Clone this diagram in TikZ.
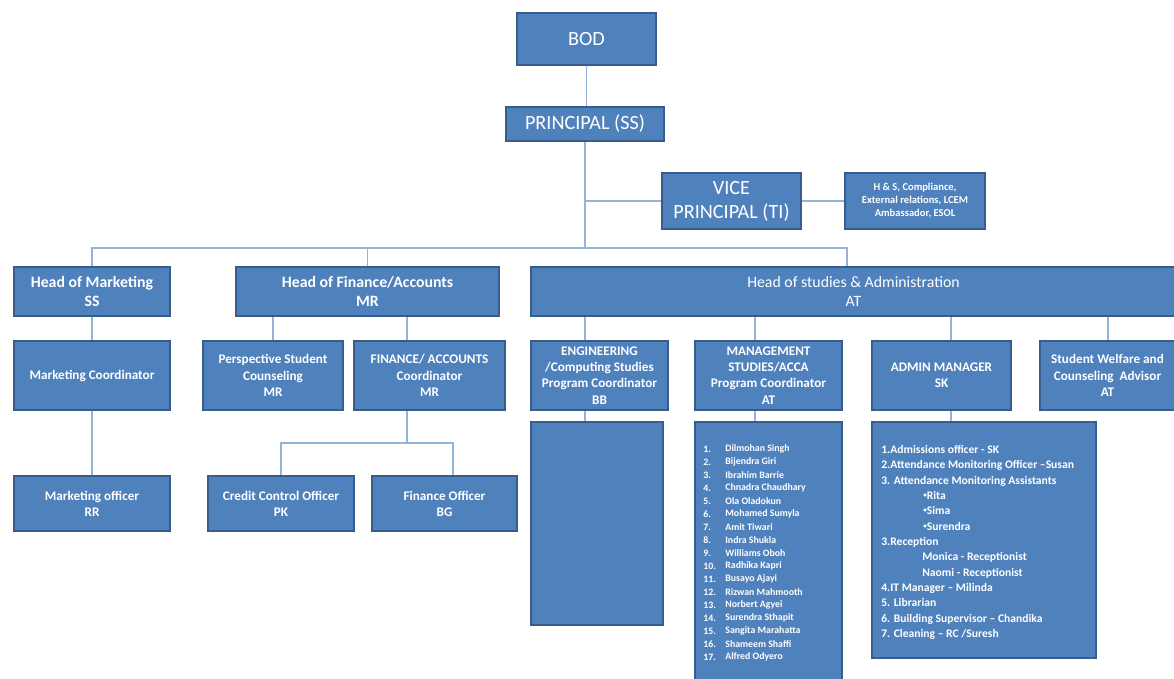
\documentclass[tikz,border=0pt]{standalone}
\usepackage{fontspec}
\setmainfont{Carlito}
\usepackage{tikz}
\usetikzlibrary{calc}
\definecolor{boxfill}{RGB}{79,129,189}
\definecolor{boxedge}{RGB}{56,93,138}
\definecolor{connblue}{RGB}{149,179,215}
\tikzset{every node/.style={text=white},
  orgbox/.style={draw=boxedge, fill=boxfill, line width=1.2pt, align=center, inner sep=1pt},
  topfont/.style={font=\fontsize{11.5}{13.5}\selectfont},
  headfont/.style={font=\bfseries\fontsize{9}{11}\selectfont},
  subfont/.style={font=\bfseries\fontsize{7.5}{9.2}\selectfont},
  conn/.style={draw=connblue, line width=0.9pt}}
% box from its corners (x1,y1) to (x2,y2), in pixels of the page
\newcommand{\orgbox}[7][]{%
  \node[orgbox,#1, minimum width={(#4-#2)*0.02cm}, minimum height={(#5-#3)*0.02cm}]
     (#6) at ({(#2+#4)/2},{(#3+#5)/2}) {#7};}
% vertical link at x from one node side to another
\newcommand{\vlink}[3]{\draw[conn] (#1,0 |- #2) -- (#1,0 |- #3);}
\newcommand{\smallbul}{\raisebox{1.2pt}{\fontsize{4}{4}\selectfont\textbullet}}

\begin{document}
\begin{tikzpicture}[x=0.02cm,y=-0.02cm]
  \clip (0,0) rectangle (1174,679);
  % top of the chart
  \orgbox[topfont]{517}{13}{656}{65}{bod}{BOD}
  \orgbox[topfont]{506}{107}{664}{141}{princ}{PRINCIPAL (SS)}
  \orgbox[topfont]{662}{173}{801}{229}{vp}{VICE\\PRINCIPAL (TI)}
  \orgbox[font=\bfseries\fontsize{6}{7.4}\selectfont]{845}{173}{985}{229}{hs}%
     {H \& S, Compliance,\\External relations, LCEM\\Ambassador, ESOL}
  % heads
  \orgbox[headfont]{14}{267}{170}{316}{hmk}{Head of Marketing\\SS}
  \orgbox[headfont]{236}{267}{499}{316}{hfa}{Head of Finance/Accounts\\MR}
  \orgbox[font=\fontsize{9}{11}\selectfont]{531}{267}{1176}{316}{hsa}{Head of studies \& Administration\\AT}
  % second level
  \orgbox[subfont]{14}{341}{170}{410}{mco}{Marketing Coordinator}
  \orgbox[subfont]{203}{341}{343}{410}{psc}{Perspective Student\\Counseling\\MR}
  \orgbox[subfont]{354}{341}{505}{410}{fac}{FINANCE/ ACCOUNTS\\Coordinator\\MR}
  \orgbox[subfont]{531}{341}{668}{410}{eng}{ENGINEERING\\/Computing Studies\\Program Coordinator\\BB}
  \orgbox[subfont]{695}{341}{842}{410}{mgt}{MANAGEMENT\\STUDIES/ACCA\\Program Coordinator\\AT}
  \orgbox[subfont]{872}{341}{1011}{410}{adm}{ADMIN MANAGER\\SK}
  \orgbox[subfont]{1040}{341}{1175}{410}{swa}{Student Welfare and\\Counseling~ Advisor\\AT}
  % third level
  \orgbox[subfont]{14}{476}{170}{531}{mof}{Marketing officer\\RR}
  \orgbox[subfont]{208}{476}{354}{531}{cco}{Credit Control Officer\\PK}
  \orgbox[subfont]{372}{476}{517}{531}{fof}{Finance Officer\\BG}
  \orgbox{531}{422}{663}{625}{engl}{}
  \orgbox{695}{422}{842}{700}{mgtl}{}
  \orgbox{872}{422}{1096}{658}{adml}{}
  % staff lists
  \foreach \nm [count=\i] in {Dilmohan Singh, Bijendra Giri, Ibrahim Barrie,
      Chnadra Chaudhary, Ola Oladokun, Mohamed Sumyla, Amit Tiwari, Indra Shukla,
      Williams Oboh, Radhika Kapri, Busayo Ajayi, Rizwan Mahmooth, Norbert Agyei,
      Surendra Sthapit, Sangita Marahatta, Shameem Shaffi, Alfred Odyero}{
    \node[anchor=west, inner sep=0pt, font=\bfseries\fontsize{5.6}{7}\selectfont]
      (num\i) at (703,{449+(\i-1)*13}) {\i.};
    \node[anchor=west, inner sep=0pt, font=\bfseries\fontsize{5.6}{7}\selectfont]
      (nm\i) at (725,{449+(\i-1)*13}) {\nm};
  }
  \node[anchor=north west, inner sep=0pt, align=left,
        font=\bfseries\fontsize{6.6}{8.73}\selectfont] (admtext) at (881,445) {%
    1.Admissions officer - SK\\
    2.Attendance Monitoring Officer --Susan\\
    3. Attendance Monitoring Assistants\\
    \hspace*{0.84cm}\smallbul Rita\\
    \hspace*{0.84cm}\smallbul Sima\\
    \hspace*{0.84cm}\smallbul Surendra\\
    3.Reception\\
    \hspace*{0.82cm}Monica - Receptionist\\
    \hspace*{0.82cm}Naomi - Receptionist\\
    4.IT Manager -- Milinda\\
    5. Librarian\\
    6. Building Supervisor -- Chandika\\
    7. Cleaning -- RC /Suresh};
  % connectors
  \coordinate (busr) at (847,248);
  \coordinate (faj) at (407,443);
  \draw[conn] (bod.south) -- (bod.south |- princ.north);
  \draw[conn] (princ.south) -- (princ.south |- busr);
  \draw[conn] (vp.west) -- (vp.west -| princ.south);
  \draw[conn] (vp.east) -- (hs.west);
  \draw[conn] (hmk.north) |- (busr) -- (busr |- hsa.north);
  \draw[conn] (hfa.north) -- (hfa.north |- busr);
  \draw[conn] (hmk.south) -- (mco.north);
  \draw[conn] (mco.south) -- (mof.north);
  \draw[conn] (psc.north) -- (psc.north |- hfa.south);
  \vlink{407}{hfa.south}{fac.north}
  \draw[conn] (fac.south -| faj) -- (faj);
  \draw[conn] (cco.north) |- (faj) -| ([xshift=0.17cm]fof.north);
  \vlink{585}{hsa.south}{eng.north}
  \vlink{585}{eng.south}{engl.north}
  \vlink{755}{hsa.south}{mgt.north}
  \vlink{755}{mgt.south}{mgtl.north}
  \vlink{951}{hsa.south}{adm.north}
  \vlink{951}{adm.south}{adml.north}
  \vlink{1108}{hsa.south}{swa.north}
\end{tikzpicture}
\end{document}
